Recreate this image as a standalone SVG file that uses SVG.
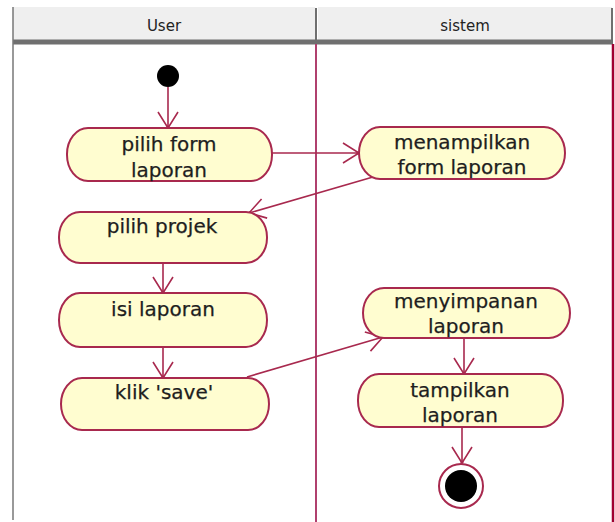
<svg xmlns="http://www.w3.org/2000/svg" width="615" height="522" viewBox="0 0 615 522">
  <style>
    .lane-head { fill: #efefef; }
    .lane-rule { stroke: #6f6f6f; stroke-width: 5; }
    .head-text { font-family: "DejaVu Sans", "Liberation Sans", sans-serif; font-size: 15px; fill: #222; text-anchor: middle; }
    .act { fill: #fffdd0; stroke: #a8294e; stroke-width: 2; }
    .act-text { font-family: "DejaVu Sans", "Liberation Sans", sans-serif; font-size: 20px; fill: #1e1e1e; stroke: #1e1e1e; stroke-width: 0.25; text-anchor: middle; }
    .flow { fill: none; stroke: #a8294e; stroke-width: 1.6; marker-end: url(#open); }
  </style>
  <defs>
    <marker id="open" markerUnits="userSpaceOnUse" markerWidth="20" markerHeight="24" refX="17" refY="10" orient="auto" overflow="visible">
      <path d="M1,0 L17,10 L1,20" fill="none" stroke="#a8294e" stroke-width="1.6"/>
      <circle cx="16" cy="10" r="1.6" fill="#a8294e"/>
    </marker>
  </defs>

  <rect width="615" height="522" fill="#ffffff"/>

  <!-- swimlane headers and lane borders -->
  <g id="lanes">
    <rect class="lane-head" x="13" y="7" width="302" height="33"/>
    <rect class="lane-head" x="318" y="7" width="294" height="33"/>
    <line x1="316" y1="8" x2="316" y2="40" stroke="#6f6f6f" stroke-width="2"/>
    <line x1="612" y1="8" x2="612" y2="40" stroke="#6f6f6f" stroke-width="2"/>
    <line class="lane-rule" x1="13" y1="42" x2="613" y2="42"/>
    <line x1="13" y1="7" x2="13" y2="520" stroke="#777" stroke-width="1.5"/>
    <line x1="316" y1="44" x2="316" y2="522" stroke="#b0406e" stroke-width="2"/>
    <line x1="613" y1="44" x2="613" y2="522" stroke="#a00030" stroke-width="2.5"/>
    <text class="head-text" x="164" y="31">User</text>
    <text class="head-text" x="465" y="31">sistem</text>
  </g>

  <!-- control flows -->
  <g id="connectors">
    <line class="flow" x1="168" y1="87" x2="168" y2="128"/>
    <line class="flow" x1="272" y1="153" x2="359" y2="153"/>
    <line class="flow" x1="373" y1="177" x2="249" y2="213"/>
    <line class="flow" x1="163" y1="263" x2="163" y2="293"/>
    <line class="flow" x1="163" y1="347" x2="163" y2="378"/>
    <line class="flow" x1="247" y1="377" x2="383" y2="337"/>
    <line class="flow" x1="464" y1="338" x2="464" y2="374"/>
    <line class="flow" x1="462" y1="427" x2="462" y2="463"/>
  </g>

  <!-- initial node -->
  <g id="start">
    <circle cx="168" cy="76" r="11" fill="#000"/>
  </g>

  <g id="pilih-form-laporan">
    <rect class="act" x="67" y="128" width="205" height="53" rx="21" ry="26"/>
    <text class="act-text" x="169" y="151">pilih form</text>
    <text class="act-text" x="169" y="177">laporan</text>
  </g>

  <g id="menampilkan-form-laporan">
    <rect class="act" x="359" y="127" width="206" height="52" rx="21" ry="26"/>
    <text class="act-text" x="462" y="149">menampilkan</text>
    <text class="act-text" x="462" y="174">form laporan</text>
  </g>

  <g id="pilih-projek">
    <rect class="act" x="59" y="212" width="208" height="51" rx="21" ry="25"/>
    <text class="act-text" x="162" y="233">pilih projek</text>
  </g>

  <g id="isi-laporan">
    <rect class="act" x="59" y="293" width="208" height="54" rx="21" ry="27"/>
    <text class="act-text" x="163" y="316">isi laporan</text>
  </g>

  <g id="klik-save">
    <rect class="act" x="61" y="378" width="208" height="52" rx="21" ry="26"/>
    <text class="act-text" x="164" y="399">klik 'save'</text>
  </g>

  <g id="menyimpanan-laporan">
    <rect class="act" x="363" y="288" width="207" height="50" rx="21" ry="25"/>
    <text class="act-text" x="466" y="308">menyimpanan</text>
    <text class="act-text" x="466" y="333">laporan</text>
  </g>

  <g id="tampilkan-laporan">
    <rect class="act" x="358" y="374" width="205" height="53" rx="21" ry="26"/>
    <text class="act-text" x="460" y="397">tampilkan</text>
    <text class="act-text" x="460" y="422">laporan</text>
  </g>

  <!-- final node -->
  <g id="end">
    <circle cx="461" cy="486" r="22" fill="#fff" stroke="#a8294e" stroke-width="2"/>
    <circle cx="461" cy="486" r="16" fill="#000"/>
  </g>
</svg>
